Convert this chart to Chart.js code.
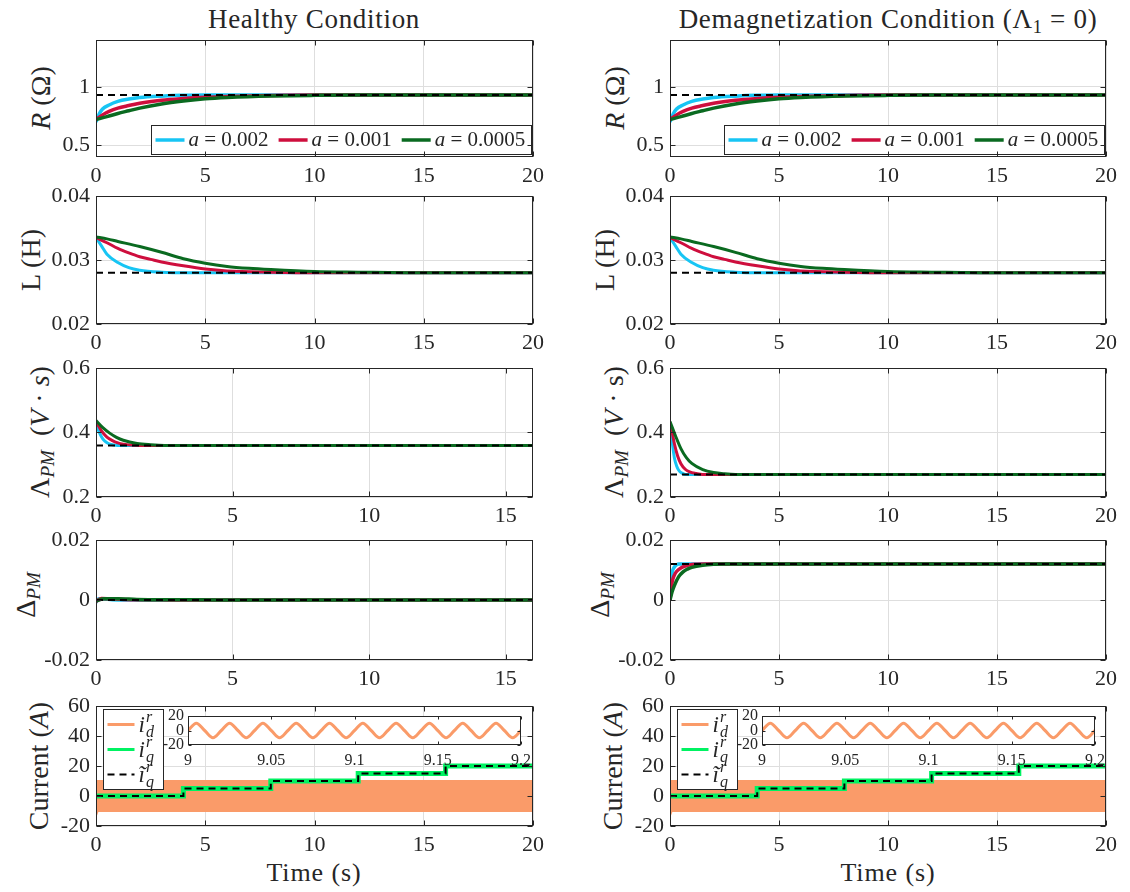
<!DOCTYPE html>
<html lang="en">
<head>
<meta charset="utf-8">
<title>PMSM parameter estimation</title>
<script src="https://cdn.jsdelivr.net/npm/chart.js@4.4.1/dist/chart.umd.min.js"></script>
<style>
  html, body { margin: 0; padding: 0; background: #fff; }
  body { position: relative; width: 1130px; height: 892px; overflow: hidden;
         font-family: "Liberation Serif", "Times New Roman", serif; color: #262626; }
  canvas { position: absolute; }
  .title, .xlab { position: absolute; line-height: 1; white-space: nowrap;
                  transform: translate(-50%, -50%); }
  .title { font-size: 27px; letter-spacing: 0.7px; }
  .xlab { font-size: 26px; letter-spacing: 0.9px; }
  .ylab { position: absolute; font-size: 28px; line-height: 1; white-space: nowrap;
          transform: translate(-50%, -50%) rotate(-90deg); }
  sub { font-size: 68%; vertical-align: -0.28em; line-height: 0; }
</style>
</head>
<body>
<div class="title" style="left:314px;top:19px">Healthy Condition</div>
<div class="title" style="left:888px;top:19px">Demagnetization Condition (Λ<sub>1</sub> = 0)</div>

<div class="ylab" style="left:41px;top:98px"><i>R</i> (Ω)</div>
<div class="ylab" style="left:31px;top:260px">L (H)</div>
<div class="ylab" style="left:40px;top:432px">Λ<sub><i>PM</i></sub> &nbsp;(<i>V</i> · <i>s</i>)</div>
<div class="ylab" style="left:26px;top:595px">Δ<sub><i>PM</i></sub></div>
<div class="ylab" style="left:39px;top:766px">Current (<i>A</i>)</div>

<div class="ylab" style="left:615px;top:98px"><i>R</i> (Ω)</div>
<div class="ylab" style="left:605px;top:260px">L (H)</div>
<div class="ylab" style="left:614px;top:432px">Λ<sub><i>PM</i></sub> &nbsp;(<i>V</i> · s)</div>
<div class="ylab" style="left:600px;top:595px">Δ<sub><i>PM</i></sub></div>
<div class="ylab" style="left:613px;top:766px">Current (<i>A</i>)</div>

<div class="xlab" style="left:314px;top:873px">Time (s)</div>
<div class="xlab" style="left:888px;top:873px">Time (s)</div>

<script>
// ---------- tick values ----------
const timeTicks20 = [0, 5, 10, 15, 20];
const timeTicks16 = [0, 5, 10, 15];
const rTicks = [0.5, 1];
const lTicks = [0.02, 0.03, 0.04];
const fluxTicks = [0.2, 0.4, 0.6];
const deltaTicks = [-0.02, 0, 0.02];
const currentTicks = [-20, 0, 20, 40, 60];
const zoomTimeTicks = [9, 9.05, 9.1, 9.15, 9.2];
const zoomCurrentTicks = [-20, 0, 20];
const gainLabels = ['0.002', '0.001', '0.0005'];

// ---------- resistance estimate R (Ω), pairs [t, value] ----------
const rTrue = [[0, 0.93], [20, 0.93]];
const rGain002 = [[0, 0.70], [0.15, 0.77], [0.3, 0.81], [0.6, 0.845], [1, 0.875], [1.5, 0.895], [2, 0.908], [3, 0.92], [4, 0.927], [5, 0.93], [20, 0.93]];
const rGain001 = [[0, 0.72], [0.3, 0.76], [0.6, 0.79], [1, 0.818], [1.5, 0.84], [2, 0.86], [3, 0.885], [4, 0.9], [5, 0.911], [6, 0.918], [8, 0.926], [10, 0.93], [20, 0.93]];
const rGain0005 = [[0, 0.72], [0.5, 0.745], [1, 0.772], [1.5, 0.795], [2, 0.818], [3, 0.853], [4, 0.878], [5, 0.897], [6, 0.908], [8, 0.921], [10, 0.927], [12, 0.93], [20, 0.93]];

// ---------- inductance estimate L (H) ----------
const lTrue = [[0, 0.028], [20, 0.028]];
const lGain002 = [[0, 0.0335], [0.25, 0.0322], [0.5, 0.0309], [1, 0.0296], [1.5, 0.0288], [2, 0.0284], [3, 0.0281], [4, 0.028], [20, 0.028]];
const lGain001 = [[0, 0.0335], [0.5, 0.0327], [1, 0.0318], [1.5, 0.0311], [2, 0.0305], [2.5, 0.0301], [3, 0.0297], [4, 0.0291], [5, 0.0286], [6, 0.0283], [8, 0.0281], [10, 0.028], [20, 0.028]];
const lGain0005 = [[0, 0.0336], [0.5, 0.0333], [1, 0.0329], [2, 0.0321], [3, 0.0312], [4, 0.0302], [5, 0.0295], [6, 0.029], [7, 0.0287], [8, 0.0285], [10, 0.0282], [12, 0.0281], [15, 0.028], [20, 0.028]];

// ---------- PM flux linkage, healthy machine (V·s) ----------
const fluxTrueH = [[0, 0.36], [16, 0.36]];
const fluxGain002H = [[0, 0.43], [0.1, 0.405], [0.2, 0.387], [0.3, 0.375], [0.45, 0.366], [0.6, 0.362], [0.8, 0.36], [16, 0.36]];
const fluxGain001H = [[0, 0.435], [0.2, 0.405], [0.4, 0.386], [0.6, 0.375], [0.8, 0.368], [1, 0.364], [1.3, 0.361], [1.6, 0.36], [16, 0.36]];
const fluxGain0005H = [[0, 0.437], [0.25, 0.415], [0.5, 0.398], [0.75, 0.385], [1, 0.376], [1.5, 0.366], [2, 0.362], [2.5, 0.36], [16, 0.36]];

// ---------- PM flux linkage, demagnetized machine (V·s) ----------
const fluxTrueD = [[0, 0.27], [20, 0.27]];
const fluxGain002D = [[0, 0.43], [0.1, 0.37], [0.2, 0.322], [0.3, 0.297], [0.4, 0.283], [0.55, 0.274], [0.7, 0.27], [20, 0.27]];
const fluxGain001D = [[0, 0.43], [0.1, 0.40], [0.2, 0.366], [0.35, 0.327], [0.5, 0.303], [0.7, 0.286], [0.9, 0.278], [1.2, 0.273], [1.5, 0.27], [20, 0.27]];
const fluxGain0005D = [[0, 0.434], [0.25, 0.39], [0.5, 0.35], [0.75, 0.322], [1, 0.304], [1.5, 0.285], [2, 0.276], [2.5, 0.272], [3, 0.27], [20, 0.27]];

// ---------- flux deviation Δ_PM, healthy ----------
const deltaTrueH = [[0, 0], [16, 0]];
const deltaGain002H = [[0, -0.0008], [0.1, 0.0004], [0.3, 0.0003], [0.6, 0.0001], [1, 0], [16, 0]];
const deltaGain001H = [[0, -0.0005], [0.2, 0.0005], [0.5, 0.0004], [1, 0.0002], [2, 0.0001], [3, 0], [16, 0]];
const deltaGain0005H = [[0, -0.0003], [0.3, 0.0004], [0.8, 0.0004], [1.5, 0.0002], [3, 0.0001], [4.5, 0], [16, 0]];

// ---------- flux deviation Δ_PM, demagnetized ----------
const deltaTrueD = [[0, 0.012], [20, 0.012]];
const deltaGain002D = [[0, 0], [0.05, 0.006], [0.1, 0.0092], [0.2, 0.011], [0.3, 0.0117], [0.4, 0.012], [20, 0.012]];
const deltaGain001D = [[0, 0], [0.1, 0.006], [0.2, 0.0083], [0.3, 0.0095], [0.5, 0.0107], [0.7, 0.0113], [0.9, 0.0117], [1.2, 0.0119], [1.6, 0.012], [20, 0.012]];
const deltaGain0005D = [[0, 0], [0.1, 0.0028], [0.2, 0.0048], [0.4, 0.0078], [0.6, 0.0094], [0.8, 0.0103], [1, 0.0109], [1.5, 0.0116], [2, 0.0119], [2.5, 0.012], [20, 0.012]];

// ---------- currents (A) ----------
// each level holds from its time stamp until the next one
const iqRef = [[0, 0], [4, 5], [8, 10], [12, 15], [16, 20], [20, 20]];
const iqMeas = [[0, 0], [4, 5], [8, 10], [12, 15], [16, 20], [20, 20]];
// envelope of the 50 Hz d-axis injection over the whole run
const idUpper = [[0, 10], [20, 10]];
const idLower = [[0, -13], [0.08, -10], [20, -10]];
// d-axis current seen over 9 s … 9.2 s
const idZoom = [[9, 0], [9.005, 10], [9.01, 0], [9.015, -10], [9.02, 0], [9.025, 10], [9.03, 0], [9.035, -10],
  [9.04, 0], [9.045, 10], [9.05, 0], [9.055, -10], [9.06, 0], [9.065, 10], [9.07, 0], [9.075, -10],
  [9.08, 0], [9.085, 10], [9.09, 0], [9.095, -10], [9.1, 0], [9.105, 10], [9.11, 0], [9.115, -10],
  [9.12, 0], [9.125, 10], [9.13, 0], [9.135, -10], [9.14, 0], [9.145, 10], [9.15, 0], [9.155, -10],
  [9.16, 0], [9.165, 10], [9.17, 0], [9.175, -10], [9.18, 0], [9.185, 10], [9.19, 0], [9.195, -10], [9.2, 0]];

// ---------- styling ----------
const FONT = '"Liberation Serif", "Times New Roman", serif';
const INK = '#262626';
const GRID = '#dedede';
const C_FAST = '#17C5F4', C_MID = '#CE0E3D', C_SLOW = '#0A6A20';
const C_ID = '#FA9B69', C_IQ = '#00F262';

const COLS = [{L: 96, W: 437}, {L: 670, W: 436}];
const ROW_T = [40, 196, 368, 540, 706];
const ROW_H = [117, 128, 129, 120, 120];
// margins around each plot box; wide enough that the scale padding never squeezes the box
const MAIN_M = {yw: 90, pt: 22, pr: 26, xh: 36, pb: 2};
const ZOOM_M = {yw: 40, pt: 14, pr: 20, xh: 30, pb: 2};

const pts = arr => arr.map(([x, y]) => ({x, y}));
const fmt = v => String(Math.round(v * 1e6) / 1e6);

function est(data, color, width, order) {
  return {data: pts(data), borderColor: color, borderWidth: width, pointRadius: 0, fill: false,
          cubicInterpolationMode: 'monotone', borderJoinStyle: 'round', order};
}
function truth(data) {
  return {data: pts(data), borderColor: '#000', borderWidth: 2, borderDash: [7, 5],
          pointRadius: 0, fill: false, order: 0};
}
function estSets(fast, mid, slow, ref, w) {
  return [truth(ref), est(slow, C_SLOW, w, 1), est(mid, C_MID, w, 2), est(fast, C_FAST, w, 3)];
}
function currentSets() {
  return [
    {data: pts(iqRef), borderColor: '#000', borderWidth: 2, borderDash: [7, 5], stepped: 'before',
     pointRadius: 0, fill: false, order: 0},
    {data: pts(iqMeas), borderColor: C_IQ, borderWidth: 5, stepped: 'before',
     pointRadius: 0, fill: false, order: 1},
    {data: pts(idUpper), borderColor: C_ID, backgroundColor: C_ID, borderWidth: 2,
     pointRadius: 0, fill: 3, order: 2},
    {data: pts(idLower), borderColor: C_ID, borderWidth: 2, pointRadius: 0, fill: false, order: 3}
  ];
}

// ---------- legend labels drawn as rich text ----------
function gainLabel(v, size) {
  const itf = `italic ${size}px ${FONT}`, rmf = `${size}px ${FONT}`;
  return {
    width(ctx) { ctx.font = itf; const w = ctx.measureText('a').width; ctx.font = rmf; return w + ctx.measureText(' = ' + v).width; },
    draw(ctx, x, y) {
      ctx.fillStyle = INK; ctx.textAlign = 'left'; ctx.textBaseline = 'middle';
      ctx.font = itf; ctx.fillText('a', x, y);
      const w = ctx.measureText('a').width;
      ctx.font = rmf; ctx.fillText(' = ' + v, x + w, y);
    }
  };
}
function currentLabel(base, sub, size) {
  const itf = s => `italic ${s}px ${FONT}`;
  const ss = Math.round(size * 0.68);
  return {
    width(ctx) {
      ctx.font = itf(size); const bw = ctx.measureText(base).width;
      ctx.font = itf(ss);
      return bw + 1 + Math.max(ctx.measureText('r').width, ctx.measureText(sub).width);
    },
    draw(ctx, x, y) {
      ctx.fillStyle = INK; ctx.textAlign = 'left'; ctx.textBaseline = 'alphabetic';
      const by = y + size * 0.32;
      ctx.font = itf(size); ctx.fillText(base, x, by);
      const bw = ctx.measureText(base).width + 1;
      ctx.font = itf(ss);
      ctx.fillText('r', x + bw, by - size * 0.42);
      ctx.fillText(sub, x + bw, by + size * 0.24);
    }
  };
}

const gainLegend = {
  dir: 'row', anchor: 'se', dx: 2, dy: 3, h: 29, padL: 4, padR: 6, sample: 29, gap: 4, itemGap: 10,
  items: [
    {color: C_FAST, width: 3.5, label: gainLabel(gainLabels[0], 21)},
    {color: C_MID, width: 3.5, label: gainLabel(gainLabels[1], 21)},
    {color: C_SLOW, width: 3.5, label: gainLabel(gainLabels[2], 21)}
  ]
};
const currentLegend = {
  dir: 'col', anchor: 'nw', dx: 7, dy: 3, padL: 4, padR: 4, padY: 2.5, rowH: 25, sample: 27, gap: 4, minW: 60,
  items: [
    {color: C_ID, width: 3, label: currentLabel('i', 'd', 23)},
    {color: C_IQ, width: 3, label: currentLabel('i', 'q', 23)},
    {color: '#000', width: 2, dash: [7, 5], label: currentLabel('ĩ', 'q', 23)}
  ]
};

function drawLegend(chart, lg) {
  const ctx = chart.ctx, a = chart.chartArea;
  ctx.save();
  const widths = lg.items.map(it => it.label.width(ctx));
  let bw, bh;
  if (lg.dir === 'row') {
    bw = lg.padL + lg.padR + widths.reduce((s, w) => s + lg.sample + lg.gap + w, 0) + lg.itemGap * (lg.items.length - 1);
    bh = lg.h;
  } else {
    bw = Math.max(lg.minW || 0, lg.padL + lg.padR + lg.sample + lg.gap + Math.max(...widths));
    bh = lg.padY * 2 + lg.rowH * lg.items.length;
  }
  bw = Math.round(bw); bh = Math.round(bh);
  const bx = Math.round(lg.anchor === 'se' ? a.right - lg.dx - bw : a.left + lg.dx) + 0.5;
  const by = Math.round(lg.anchor === 'se' ? a.bottom - lg.dy - bh : a.top + lg.dy) + 0.5;
  ctx.fillStyle = '#fff';
  ctx.fillRect(bx, by, bw, bh);
  ctx.strokeStyle = INK; ctx.lineWidth = 1;
  ctx.strokeRect(bx, by, bw, bh);
  let cursor = bx + lg.padL;
  lg.items.forEach((it, i) => {
    let sx, cy;
    if (lg.dir === 'row') { sx = cursor; cy = by + bh / 2; cursor += lg.sample + lg.gap + widths[i] + lg.itemGap; }
    else { sx = bx + lg.padL; cy = by + lg.padY + lg.rowH * (i + 0.5); }
    ctx.beginPath();
    ctx.strokeStyle = it.color; ctx.lineWidth = it.width; ctx.setLineDash(it.dash || []);
    ctx.moveTo(sx, cy); ctx.lineTo(sx + lg.sample, cy); ctx.stroke();
    ctx.setLineDash([]);
    it.label.draw(ctx, sx + lg.sample + lg.gap, cy);
  });
  ctx.restore();
}

// axes box with inward ticks on all four sides, white backdrop for the zoom panel, legends
const framePlugin = {
  id: 'frame',
  beforeDraw(chart, args, o) {
    if (!o.fillArea) return;
    const a = chart.chartArea, ctx = chart.ctx;
    ctx.save(); ctx.fillStyle = '#fff'; ctx.fillRect(a.left, a.top, a.width, a.height); ctx.restore();
  },
  afterDatasetsDraw(chart, args, o) { if (o.legend) drawLegend(chart, o.legend); },
  afterDraw(chart, args, o) {
    const {ctx, chartArea: a, scales: {x, y}} = chart;
    const L = Math.round(a.left) + 0.5, R = Math.round(a.right) - 0.5;
    const T = Math.round(a.top) + 0.5, B = Math.round(a.bottom) - 0.5;
    const tl = o.tick || 5;
    ctx.save();
    ctx.strokeStyle = INK; ctx.lineWidth = 1;
    ctx.strokeRect(L, T, R - L, B - T);
    ctx.beginPath();
    x.ticks.forEach(t => {
      const px = Math.round(x.getPixelForValue(t.value)) + 0.5;
      ctx.moveTo(px, B); ctx.lineTo(px, B - tl);
      ctx.moveTo(px, T); ctx.lineTo(px, T + tl);
    });
    y.ticks.forEach(t => {
      const py = Math.round(y.getPixelForValue(t.value)) + 0.5;
      ctx.moveTo(L, py); ctx.lineTo(L + tl, py);
      ctx.moveTo(R, py); ctx.lineTo(R - tl, py);
    });
    ctx.stroke();
    ctx.restore();
  }
};

function axis(min, max, ticks, size, pad, fixSize, horizontal, grid) {
  return {
    type: 'linear', min, max,
    afterBuildTicks: s => { s.ticks = ticks.map(v => ({value: v})); },
    afterFit: s => { if (horizontal) s.height = fixSize; else s.width = fixSize; },
    ticks: {autoSkip: false, maxRotation: 0, minRotation: 0, padding: pad, color: INK,
             font: {family: FONT, size}, callback: v => fmt(v)},
    grid: {display: grid, color: GRID, lineWidth: 1, drawTicks: false},
    border: {display: false}
  };
}

const charts = [];
function makeChart(L, T, W, H, m, datasets, xs, ys, frame, fontSize, grid, xPad, yPad) {
  const cv = document.createElement('canvas');
  cv.width = m.yw + W + m.pr;
  cv.height = m.pt + H + m.xh + m.pb;
  cv.style.left = (L - m.yw) + 'px';
  cv.style.top = (T - m.pt) + 'px';
  document.body.appendChild(cv);
  charts.push(new Chart(cv, {
    type: 'line',
    data: {datasets},
    options: {
      responsive: false, animation: false, devicePixelRatio: 1, events: [],
      layout: {padding: {left: 0, top: m.pt, right: m.pr, bottom: m.pb}},
      scales: {
        x: axis(xs[0], xs[1], xs[2], fontSize, xPad, m.xh, true, grid),
        y: axis(ys[0], ys[1], ys[2], fontSize, yPad, m.yw, false, grid)
      },
      plugins: {legend: {display: false}, tooltip: {enabled: false}, frame}
    },
    plugins: [framePlugin]
  }));
}

const panels = [
  // healthy column
  {c: 0, r: 0, x: [0, 20, timeTicks20], y: [0.4, 1.4, rTicks], sets: estSets(rGain002, rGain001, rGain0005, rTrue, 3.5), legend: gainLegend},
  {c: 0, r: 1, x: [0, 20, timeTicks20], y: [0.02, 0.04, lTicks], sets: estSets(lGain002, lGain001, lGain0005, lTrue, 3)},
  {c: 0, r: 2, x: [0, 16, timeTicks16], y: [0.2, 0.6, fluxTicks], sets: estSets(fluxGain002H, fluxGain001H, fluxGain0005H, fluxTrueH, 3)},
  {c: 0, r: 3, x: [0, 16, timeTicks16], y: [-0.02, 0.02, deltaTicks], sets: estSets(deltaGain002H, deltaGain001H, deltaGain0005H, deltaTrueH, 3.5)},
  {c: 0, r: 4, x: [0, 20, timeTicks20], y: [-20, 60, currentTicks], sets: currentSets(), legend: currentLegend},
  // demagnetized column
  {c: 1, r: 0, x: [0, 20, timeTicks20], y: [0.4, 1.4, rTicks], sets: estSets(rGain002, rGain001, rGain0005, rTrue, 3.5), legend: gainLegend},
  {c: 1, r: 1, x: [0, 20, timeTicks20], y: [0.02, 0.04, lTicks], sets: estSets(lGain002, lGain001, lGain0005, lTrue, 3)},
  {c: 1, r: 2, x: [0, 20, timeTicks20], y: [0.2, 0.6, fluxTicks], sets: estSets(fluxGain002D, fluxGain001D, fluxGain0005D, fluxTrueD, 3)},
  {c: 1, r: 3, x: [0, 20, timeTicks20], y: [-0.02, 0.02, deltaTicks], sets: estSets(deltaGain002D, deltaGain001D, deltaGain0005D, deltaTrueD, 3.5)},
  {c: 1, r: 4, x: [0, 20, timeTicks20], y: [-20, 60, currentTicks], sets: currentSets(), legend: currentLegend}
];

panels.forEach(p => {
  const col = COLS[p.c];
  makeChart(col.L, ROW_T[p.r], col.W, ROW_H[p.r], MAIN_M, p.sets, p.x, p.y,
            {legend: p.legend, tick: 5}, 22, true, 6, 6);
});

// zoomed view of the d-axis current inside each current panel
const zoomBoxes = [{L: 188, W: 333}, {L: 762, W: 333}];
zoomBoxes.forEach(b => {
  makeChart(b.L, 716, b.W, 29, ZOOM_M,
    [{data: pts(idZoom), borderColor: C_ID, borderWidth: 3, pointRadius: 0, fill: false,
      cubicInterpolationMode: 'monotone'}],
    [9, 9.2, zoomTimeTicks], [-20, 20, zoomCurrentTicks],
    {fillArea: true, tick: 3}, 16, false, 6, 4);
});

// redraw once the serif faces are surely available to the canvas
if (document.fonts && document.fonts.ready) {
  document.fonts.ready.then(() => charts.forEach(c => c.draw()));
}
</script>
</body>
</html>
